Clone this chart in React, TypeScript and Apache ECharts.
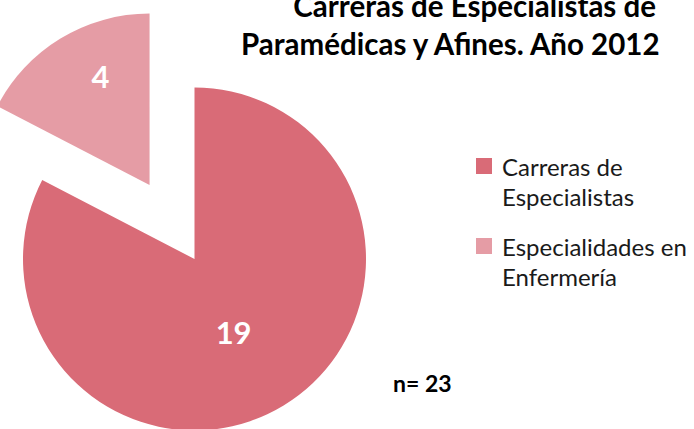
import React, { useEffect, useRef } from 'react';
import * as echarts from 'echarts';

const categories = ['Carreras de Especialistas', 'Especialidades en Enfermería'];
const legendLabels = ['Carreras de\nEspecialistas', 'Especialidades en\nEnfermería'];
const values = [19, 4];
const colors = ['#D96B77', '#E59CA5'];
const titleLines = ['Carreras de Especialistas de', 'Paramédicas y Afines. Año 2012'];
const totalLabel = 'n= 23';

const FONT = 'Lato';

export default function App() {
  const ref = useRef<HTMLDivElement>(null);
  useEffect(() => {
    const chart = echarts.init(ref.current!, null, { renderer: 'svg' });
    chart.setOption({
      animation: false,
      title: [
        {
          text: titleLines[0], right: 38, top: -10, padding: 0,
          textStyle: { fontFamily: FONT, fontWeight: 'bold', fontSize: 29.5, color: '#000' },
        },
        {
          text: titleLines[1], right: 31, top: 28, padding: 0,
          textStyle: { fontFamily: FONT, fontWeight: 'bold', fontSize: 29.5, color: '#000' },
        },
      ],
      legend: {
        orient: 'vertical',
        left: 476,
        top: 151,
        padding: 0,
        itemWidth: 16,
        itemHeight: 46,
        itemGap: 20,
        icon: 'path://M0,0H16V16H0Z M0,46H16',
        itemStyle: { borderWidth: 0 },
        formatter: (name: string) => legendLabels[categories.indexOf(name)],
        textStyle: { fontFamily: FONT, fontSize: 24, lineHeight: 30, color: '#1a1a1a', padding: [0, 0, 0, 5] },
        selectedMode: false,
        data: categories,
      },
      series: [
        {
          type: 'pie',
          center: [194.5, 259],
          radius: 171.5,
          startAngle: 90,
          clockwise: true,
          selectedMode: 'single',
          selectedOffset: 86.5,
          emphasis: { disabled: true },
          itemStyle: { borderWidth: 0 },
          label: {
            show: true,
            position: 'inside',
            formatter: '{c}',
            color: '#fff',
            fontFamily: FONT,
            fontWeight: 'bold',
            fontSize: 31,
          },
          labelLine: { show: false },
          labelLayout: (p: any) => (p.dataIndex === 1 ? { dx: -3, dy: -33 } : { dx: -7, dy: -3 }),
          data: categories.map((name, i) => ({
            name,
            value: values[i],
            selected: i === 1,
            itemStyle: { color: colors[i] },
            select: { itemStyle: { color: colors[i], borderWidth: 0 } },
          })),
        },
      ],
      graphic: [
        {
          type: 'text',
          x: 393,
          y: 371,
          style: { text: totalLabel, fontFamily: FONT, fontWeight: 'bold', fontSize: 23, fill: '#000' },
        },
      ],
    });
    return () => chart.dispose();
  }, []);
  return <div ref={ref} style={{ position: 'absolute', left: 0, top: 0, width: 694, height: 429 }} />;
}
